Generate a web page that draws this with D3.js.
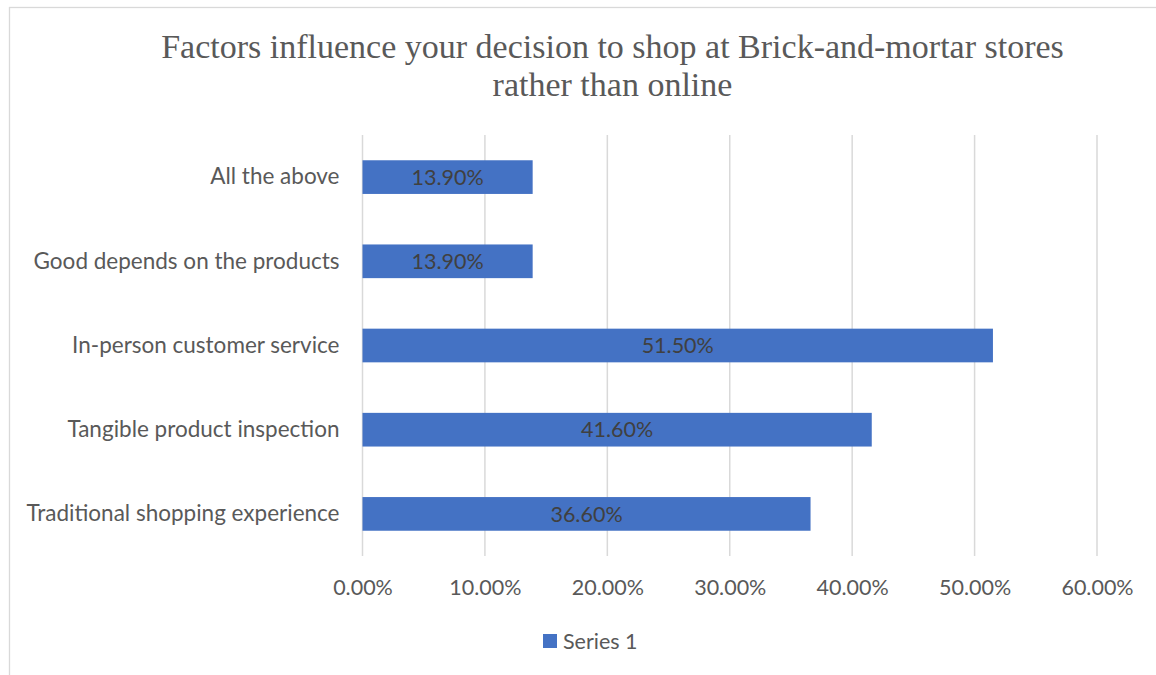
<!DOCTYPE html>
<html>
<head>
<meta charset="utf-8">
<script src="https://cdn.jsdelivr.net/npm/d3@7"></script>
<style>
  html, body { margin: 0; padding: 0; background: #fff; }
  svg { display: block; }
</style>
</head>
<body>
<svg id="chart" width="1156" height="675"></svg>
<script>
// Survey results: reasons for shopping in physical stores
const categories = [
  "All the above",
  "Good depends on the products",
  "In-person customer service",
  "Tangible product inspection",
  "Traditional shopping experience"
];
const values = [0.139, 0.139, 0.515, 0.416, 0.366];
const tickValues = [0, 0.1, 0.2, 0.3, 0.4, 0.5, 0.6];
const seriesName = "Series 1";
const titleLines = [
  "Factors influence your decision to shop at Brick-and-mortar stores",
  "rather than online"
];

const svg = d3.select("#chart");
const labelFont = "Lato, 'Open Sans', sans-serif";
const textColor = "#595959";

// chart frame
svg.append("rect")
  .attr("x", 9.5).attr("y", 7.5)
  .attr("width", 1200).attr("height", 700)
  .attr("fill", "#fff")
  .attr("stroke", "#d9d9d9").attr("stroke-width", 1.3);

// title
svg.append("g").selectAll("text")
  .data(titleLines)
  .join("text")
  .attr("x", 612.5)
  .attr("y", (d, i) => 58 + i * 37.5)
  .attr("text-anchor", "middle")
  .attr("font-family", "'Liberation Serif', serif")
  .attr("font-size", 34)
  .attr("fill", textColor)
  .text(d => d);

const plot = { left: 362.5, right: 1097, top: 135, bottom: 556 };

const x = d3.scaleLinear().domain([0, 0.6]).range([plot.left, plot.right]);
const y = d3.scaleBand()
  .domain(categories)
  .range([plot.top, plot.bottom])
  .paddingInner(0.6)
  .paddingOuter(0.3);

const fmt = d3.format(".2%");

// vertical gridlines
svg.append("g").selectAll("line")
  .data(tickValues)
  .join("line")
  .attr("x1", d => x(d)).attr("x2", d => x(d))
  .attr("y1", plot.top).attr("y2", plot.bottom)
  .attr("stroke", "#d9d9d9").attr("stroke-width", 1.5);

// bottom value axis (labels only)
const xAxis = svg.append("g")
  .attr("transform", `translate(0,${plot.bottom})`)
  .call(d3.axisBottom(x).tickValues(tickValues).tickFormat(fmt).tickSize(0).tickPadding(24));
xAxis.select(".domain").remove();
xAxis.selectAll("text")
  .attr("font-family", labelFont)
  .attr("font-size", 21.5)
  .attr("fill", textColor);

// category axis (labels only)
const yAxis = svg.append("g")
  .attr("transform", `translate(${plot.left},0)`)
  .call(d3.axisLeft(y).tickSize(0).tickPadding(23));
yAxis.select(".domain").remove();
yAxis.selectAll("text")
  .attr("font-family", labelFont)
  .attr("font-size", 22.5)
  .attr("fill", textColor);

// bars
svg.append("g").selectAll("rect")
  .data(categories)
  .join("rect")
  .attr("x", x(0))
  .attr("y", d => y(d))
  .attr("width", (d, i) => x(values[i]) - x(0))
  .attr("height", y.bandwidth())
  .attr("fill", "#4472c4");

// data labels
svg.append("g").selectAll("text")
  .data(categories)
  .join("text")
  .attr("x", (d, i) => (x(0) + x(values[i])) / 2)
  .attr("y", d => y(d) + y.bandwidth() / 2)
  .attr("dy", "0.36em")
  .attr("text-anchor", "middle")
  .attr("font-family", labelFont)
  .attr("font-size", 21.5)
  .attr("fill", "#404040")
  .text((d, i) => fmt(values[i]));

// legend
const legend = svg.append("g").attr("transform", "translate(543,634)");
legend.append("rect").attr("width", 14).attr("height", 14).attr("fill", "#4472c4");
legend.append("text")
  .attr("x", 20).attr("y", 7).attr("dy", "0.36em")
  .attr("font-family", labelFont)
  .attr("font-size", 21.5)
  .attr("fill", textColor)
  .text(seriesName);
</script>
</body>
</html>
